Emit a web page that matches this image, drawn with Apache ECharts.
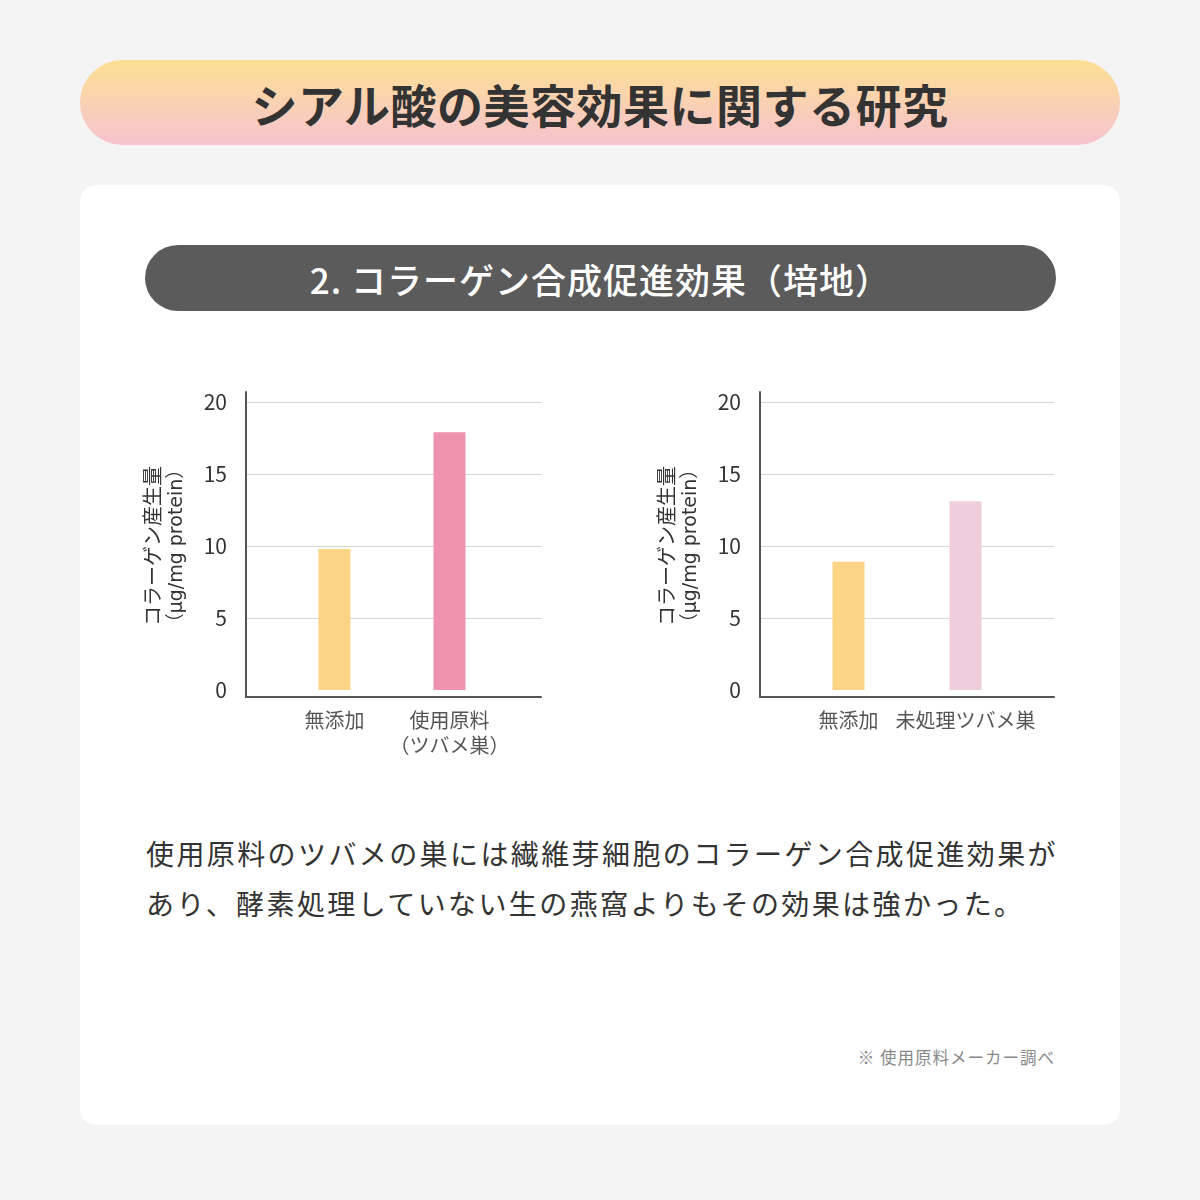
<!DOCTYPE html>
<html lang="ja">
<head>
<meta charset="utf-8">
<title>シアル酸の美容効果に関する研究</title>
<script src="https://cdn.jsdelivr.net/npm/echarts@6/dist/echarts.min.js"></script>
<style>
    html, body {
        margin: 0;
        padding: 0;
        background: #f4f4f4;
        font-family: 'Noto Sans CJK JP', 'Noto Sans', sans-serif;
    }
    #page {
        position: relative;
        width: 1200px;
        height: 1200px;
        overflow: hidden;
    }
    .banner {
        position: absolute;
        left: 80px;
        top: 60px;
        width: 1040px;
        height: 85px;
        border-radius: 43px;
        background: linear-gradient(#fddf94, #f6c3d0);
        display: flex;
        align-items: center;
        justify-content: center;
        font-size: 46px;
        letter-spacing: 0.5px;
        font-weight: 700;
        color: #333;
    }
    .card {
        position: absolute;
        left: 80px;
        top: 185px;
        width: 1040px;
        height: 940px;
        border-radius: 16px;
        background: #fff;
    }
    .subtitle {
        position: absolute;
        left: 145px;
        top: 245px;
        width: 911px;
        height: 66px;
        border-radius: 33px;
        background: #5b5b5b;
        display: flex;
        align-items: center;
        justify-content: center;
        font-size: 35px;
        letter-spacing: 1px;
        font-weight: 500;
        color: #fff;
    }
    .body {
        position: absolute;
        left: 146px;
        top: 828px;
        font-size: 28px;
        letter-spacing: 2.4px;
        line-height: 50px;
        color: #333;
        white-space: nowrap;
    }
    .note {
        position: absolute;
        right: 145px;
        top: 1045px;
        font-size: 16.5px;
        letter-spacing: 1px;
        color: #888;
    }
    #chart {
        position: absolute;
        left: 0;
        top: 0;
        width: 1200px;
        height: 1200px;
    }
</style>
</head>
<body>
<div id="page">
    <div class="banner">シアル酸の美容効果に関する研究</div>
    <div class="card"></div>
    <div class="subtitle">2. コラーゲン合成促進効果（培地）</div>
    <div class="body">使用原料のツバメの巣には繊維芽細胞のコラーゲン合成促進効果が<br>あり、酵素処理していない生の燕窩よりもその効果は強かった。</div>
    <div class="note">※ 使用原料メーカー調べ</div>
    <div id="chart"></div>
</div>
<script>
// data
const yMin = 0
const yMax = 20
const yStep = 5
const yNameLine1 = 'コラーゲン産生量'
const yNameLine2 = '（µg/mg protein）'

const leftCategories = ['無添加', '使用原料\n（ツバメ巣）']
const leftValues = [9.8, 17.9]

const rightCategories = ['無添加', '未処理ツバメ巣']
const rightValues = [8.9, 13.1]

// layout + colours of the two panels
const panels = [
    {
        categories: leftCategories,
        values: leftValues,
        colors: ['#fbd485', '#ee92b0'],
        left: 246,
        width: 295,
        barLeft: 277,
        barWidth: 230
    },
    {
        categories: rightCategories,
        values: rightValues,
        colors: ['#fbd485', '#f0cddb'],
        left: 760,
        width: 294,
        barLeft: 790,
        barWidth: 234
    }
]

const plotTop = 402
const plotHeight = 288
const axisColor = '#555'
const font = 'Noto Sans CJK JP'
const latinFont = '"DejaVu Sans", "Noto Sans CJK JP"'

const grid = []
const xAxis = []
const yAxis = []
const series = []

panels.forEach(p => {
    const base = grid.length

    // frame: only the two dark axis lines
    grid.push({ left: p.left, top: 392, width: p.width, height: 305 })
    xAxis.push({
        gridIndex: base,
        type: 'category',
        data: [''],
        axisLine: { lineStyle: { color: axisColor, width: 2 } },
        axisTick: { show: false },
        axisLabel: { show: false }
    })
    yAxis.push({
        gridIndex: base,
        type: 'value',
        min: 0,
        max: 1,
        axisLine: { show: true, lineStyle: { color: axisColor, width: 2 } },
        axisTick: { show: false },
        axisLabel: { show: false },
        splitLine: { show: false }
    })

    // value scale: tick labels, split lines, axis name
    grid.push({ left: p.left, top: plotTop, width: p.width, height: plotHeight })
    xAxis.push({ gridIndex: base + 1, type: 'category', show: false })
    yAxis.push({
        gridIndex: base + 1,
        type: 'value',
        min: yMin,
        max: yMax,
        interval: yStep,
        axisLine: { show: false },
        axisTick: { show: false },
        axisLabel: { fontSize: 21, color: '#333', margin: 19, fontFamily: font },
        splitLine: { showMinLine: false, lineStyle: { color: '#d6d6d6' } },
        name: `{a|${yNameLine1}}\n{b|${yNameLine2}}`,
        nameLocation: 'middle',
        nameRotate: 90,
        nameGap: 56,
        nameTextStyle: {
            rich: {
                a: { fontSize: 20, lineHeight: 25, color: '#333', fontFamily: font },
                b: { fontSize: 19, lineHeight: 25, color: '#333', fontFamily: latinFont }
            }
        }
    })

    // bars sit in a narrower grid so they land where the reference puts them
    grid.push({ left: p.barLeft, top: plotTop, width: p.barWidth, height: plotHeight })
    xAxis.push({
        gridIndex: base + 2,
        type: 'category',
        data: p.categories,
        axisLine: { show: false },
        axisTick: { show: false },
        axisLabel: { interval: 0, fontSize: 20, lineHeight: 25, color: '#555', margin: 18, fontFamily: font }
    })
    yAxis.push({ gridIndex: base + 2, type: 'value', min: yMin, max: yMax, show: false })

    series.push({
        type: 'bar',
        xAxisIndex: base + 2,
        yAxisIndex: base + 2,
        barWidth: 32,
        data: p.values.map((v, i) => ({ value: v, itemStyle: { color: p.colors[i] } }))
    })
})

const chart = echarts.init(document.getElementById('chart'))
chart.setOption({
    animation: false,
    grid,
    xAxis,
    yAxis,
    series
})
</script>
</body>
</html>
